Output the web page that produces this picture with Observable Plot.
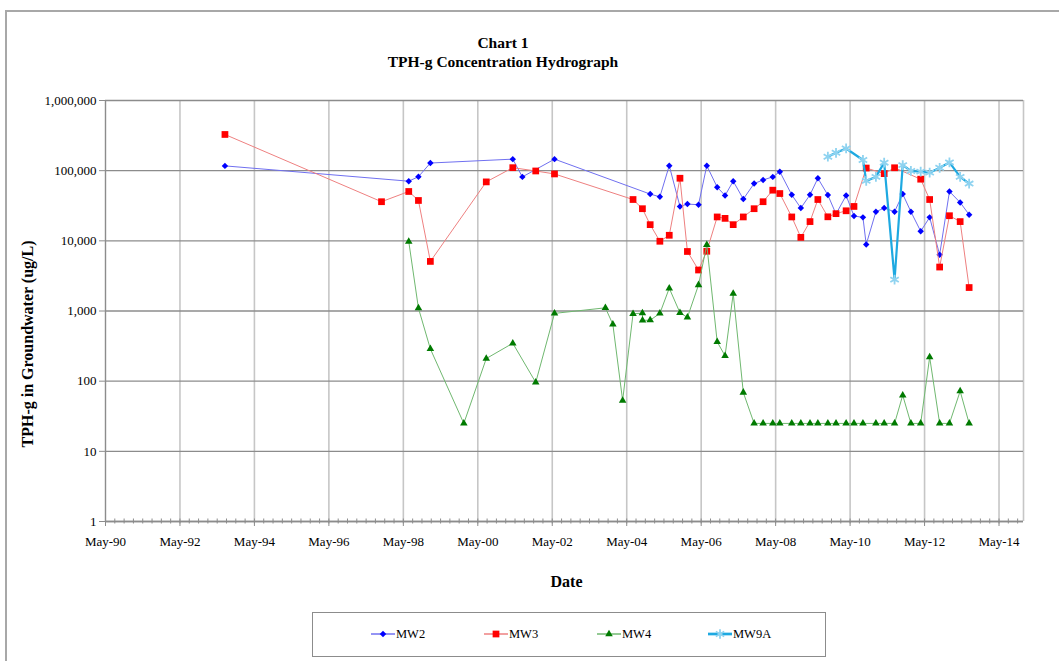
<!DOCTYPE html>
<html>
<head>
<meta charset="utf-8">
<script src="https://cdn.jsdelivr.net/npm/d3@7"></script>
<script src="https://cdn.jsdelivr.net/npm/@observablehq/plot@0.6"></script>
<style>
  html, body { margin: 0; padding: 0; background: #fff; }
  #wrap { position: relative; width: 1059px; height: 661px; overflow: hidden; font-family: "Liberation Serif", "Times New Roman", serif; }
  #border { position: absolute; left: 5px; top: 10px; width: 1100px; height: 700px; border-left: 2px solid #a8a8a8; border-top: 2px solid #a8a8a8; }
  #title { position: absolute; left: 0; top: 33px; width: 1006px; text-align: center; font-weight: bold; font-size: 15.5px; line-height: 19px; color: #000; }
  #chart { position: absolute; left: 0; top: 85px; }
  #legend { position: absolute; left: 312px; top: 612px; width: 512px; height: 43px; border: 1.5px solid #8c8c8c; background: #fff; }
  .item { position: absolute; top: 12px; height: 18px; display: flex; align-items: center; font-size: 12.5px; color: #000; }
  .item svg { display: block; }
</style>
</head>
<body>
<div id="wrap">
  <div id="border"></div>
  <div id="title">Chart 1<br>TPH-g Concentration Hydrograph</div>
  <div id="chart"></div>
  <div id="legend"></div>
</div>
<script>
// ---- Data ----
const seriesNames = ["MW2", "MW3", "MW4", "MW9A"];

const MW2 = [
  ["1993-07-22",117000],["1998-06-28",70800],["1998-10-01",82000],["1999-01-26",128500],
  ["2001-04-13",146000],["2001-07-16",81500],["2002-05-27",146000],["2004-12-20",46400],
  ["2005-03-25",42400],["2005-06-25",117800],["2005-10-08",30900],["2005-12-20",33400],
  ["2006-04-08",32700],["2006-06-28",117800],["2006-10-08",58200],["2006-12-24",44300],
  ["2007-03-14",70800],["2007-06-21",39400],["2007-10-05",65500],["2008-01-01",73800],
  ["2008-04-05",81500],["2008-06-13",96800],["2008-10-08",45300],["2009-01-05",29300],
  ["2009-04-05",45300],["2009-06-21",78000],["2009-09-27",44900],["2009-12-16",24100],
  ["2010-03-25",44300],["2010-06-10",22600],["2010-09-06",21600],["2010-10-08",8870],
  ["2011-01-11",26000],["2011-04-02",29300],["2011-07-13",26000],["2011-10-01",46400],
  ["2011-12-20",26000],["2012-03-25",13700],["2012-06-21",21600],["2012-09-27",6340],
  ["2013-01-01",50500],["2013-04-16",35200],["2013-07-13",23600]
];

const MW3 = [
  ["1993-07-22",328000],["1997-10-04",36100],["1998-06-28",50500],["1998-10-01",37600],
  ["1999-01-26",5090],["2000-07-27",69200],["2001-04-13",110300],["2001-11-24",99000],
  ["2002-05-27",89800],["2004-07-05",38800],["2004-10-05",28700],["2004-12-20",17000],
  ["2005-03-25",9860],["2005-06-25",12000],["2005-10-08",78000],["2005-12-20",7050],
  ["2006-04-08",3840],["2006-06-28",7100],["2006-10-08",21900],["2006-12-24",20900],
  ["2007-03-14",17000],["2007-06-21",21900],["2007-10-05",28700],["2008-01-01",36100],
  ["2008-04-05",52700],["2008-06-13",47200],["2008-10-08",21900],["2009-01-05",11200],
  ["2009-04-05",18800],["2009-06-21",38800],["2009-09-27",22000],["2009-12-16",24400],
  ["2010-03-25",26800],["2010-06-10",30900],["2010-10-08",109000],["2011-04-02",90700],
  ["2011-07-13",110000],["2012-03-25",75600],["2012-06-21",38800],["2012-09-27",4230],
  ["2013-01-01",22800],["2013-04-16",18800],["2013-07-13",2160]
];

const MW4 = [
  ["1998-06-28",9780],["1998-10-01",1100],["1999-01-26",288],["1999-12-20",25],
  ["2000-07-27",210],["2001-04-13",347],["2001-11-24",96],["2002-05-27",925],
  ["2003-10-08",1110],["2003-12-20",646],["2004-03-25",53],["2004-07-05",912],
  ["2004-10-05",933],["2004-10-06",736],["2004-12-20",740],["2005-03-25",925],
  ["2005-06-25",2110],["2005-10-08",944],["2005-12-20",811],["2006-04-08",2350],
  ["2006-06-28",8770],["2006-10-08",363],["2006-12-24",230],["2007-03-14",1770],
  ["2007-06-21",69],["2007-10-05",25],["2008-01-01",25],["2008-04-05",25],
  ["2008-06-13",25],["2008-10-08",25],["2009-01-05",25],["2009-04-05",25],
  ["2009-06-21",25],["2009-09-27",25],["2009-12-16",25],["2010-03-25",25],
  ["2010-06-10",25],["2010-09-06",25],["2011-01-11",25],["2011-04-02",25],
  ["2011-07-13",25],["2011-10-01",63],["2011-12-20",25],["2012-03-25",25],
  ["2012-06-21",220],["2012-09-27",25],["2013-01-01",25],["2013-04-16",72],
  ["2013-07-13",25]
];

const MW9A = [
  ["2009-09-27",158000],["2009-12-16",180000],["2010-03-25",207000],["2010-09-06",142000],
  ["2010-10-08",71500],["2011-01-11",81500],["2011-04-02",130000],["2011-07-13",2800],
  ["2011-10-01",120000],["2011-12-20",99000],["2012-03-25",96800],["2012-06-21",93700],
  ["2012-09-27",110000],["2013-01-01",131000],["2013-04-16",81500],["2013-07-13",65500]
];

// Axis ticks
const xTickDates = ["1990-05-08","1992-05-07","1994-05-07","1996-05-06","1998-05-06","2000-05-05",
  "2002-05-05","2004-05-04","2006-05-04","2008-05-03","2010-05-03","2012-05-02","2014-05-02"];
const xDomainDates = ["1990-05-08","2014-12-28"];
const yTicks = [1, 10, 100, 1000, 10000, 100000, 1000000];
const yDomain = [1, 1000000];

// ---- Build ----
const parse = s => new Date(s + "T00:00:00Z");
const toRows = arr => arr.map(([d, v]) => ({date: parse(d), value: v}));
const d2 = toRows(MW2), d3s = toRows(MW3), d4 = toRows(MW4), d9 = toRows(MW9A);

const xDomain = xDomainDates.map(parse);
const xTicks = xTickDates.map(parse);
const xGrid = [...xTicks.slice(1), xDomain[1]];
const minorStep = 730 / 8;
const minorTicks = d3.range(0, (xDomain[1] - xDomain[0]) / 864e5 + 1, minorStep)
  .map(k => new Date(+xDomain[0] + k * 864e5));

const styles = {
  MW2:  {line: "#7070f0", lw: 1,   fill: "#0000ff", stroke: "none", symbol: "diamond2", r: 2.9},
  MW3:  {line: "#ee8080", lw: 1,   fill: "#ff0000", stroke: "none", symbol: "square",  r: 3.8},
  MW4:  {line: "#70b870", lw: 1,   fill: "#007a00", stroke: "none", symbol: "triangle", r: 2.8},
  MW9A: {line: "#1ea9e1", lw: 2.2, fill: "none", stroke: "#8fd3f0", symbol: "asterisk", r: 4.6}
};

function seriesMarks(data, s) {
  return [
    Plot.line(data, {x: "date", y: "value", stroke: s.line, strokeWidth: s.lw}),
    Plot.dot(data, {x: "date", y: "value", symbol: s.symbol, r: s.r,
      fill: s.fill, stroke: s.stroke, strokeWidth: s.stroke === "none" ? 0 : 1.8})
  ];
}

const font = "'Liberation Serif', 'Times New Roman', serif";

const chart = Plot.plot({
  width: 1059,
  height: 515,
  marginTop: 15,
  marginBottom: 79,
  marginLeft: 105,
  marginRight: 36,
  style: {fontFamily: font, fontSize: "13px", color: "#000", background: "transparent", overflow: "visible"},
  x: {type: "utc", domain: xDomain},
  y: {type: "log", domain: yDomain},
  marks: [
    Plot.gridX(xGrid, {stroke: "#c6c6c6", strokeOpacity: 1, strokeWidth: 1.6}),
    Plot.gridY(yTicks, {stroke: "#8c8c8c", strokeOpacity: 1, strokeWidth: 1.4}),
    Plot.ruleX([xDomain[0]], {stroke: "#8c8c8c", strokeWidth: 1.4}),
    Plot.ruleY([yDomain[0]], {stroke: "#8c8c8c", strokeWidth: 1.4}),
    Plot.axisY(yTicks, {tickFormat: d3.format(","), tickSize: 6, tickPadding: 3,
      stroke: "#8c8c8c", fill: "#000", label: null, fontSize: 13}),
    Plot.axisX(xTicks, {tickFormat: d3.utcFormat("%b-%y"), tickSize: 5, tickPadding: 10,
      stroke: "#8c8c8c", fill: "#000", label: null, fontSize: 13}),
    Plot.axisX(minorTicks, {tickFormat: () => "", tickSize: 5, dy: -2.5,
      stroke: "#8c8c8c", label: null}),
    ...seriesMarks(d2, styles.MW2),
    ...seriesMarks(d3s, styles.MW3),
    ...seriesMarks(d4, styles.MW4),
    ...seriesMarks(d9, styles.MW9A),
    Plot.text(["TPH-g in Groundwater (ug/L)"], {frameAnchor: "left", textAnchor: "middle", lineAnchor: "middle",
      rotate: -90, dx: -78, dy: 33, fontWeight: "bold", fontSize: 16, fill: "#000"}),
    Plot.text(["Date"], {frameAnchor: "bottom", textAnchor: "middle", lineAnchor: "middle",
      dy: 60, dx: 2, fontWeight: "bold", fontSize: 16, fill: "#000"})
  ]
});
document.getElementById("chart").appendChild(chart);

// ---- Legend ----
const legend = document.getElementById("legend");
const legendLeft = {MW2: 58, MW3: 171, MW4: 284, MW9A: 395};
const symMap = {diamond2: d3.symbolDiamond2, square: d3.symbolSquare, triangle: d3.symbolTriangle, asterisk: d3.symbolAsterisk};
for (const name of seriesNames) {
  const s = styles[name];
  const item = document.createElement("div");
  item.className = "item";
  item.style.left = legendLeft[name] + "px";
  const svg = d3.create("svg").attr("width", 24).attr("height", 14);
  svg.append("line").attr("x1", 0).attr("x2", 24).attr("y1", 7).attr("y2", 7)
    .attr("stroke", s.line).attr("stroke-width", s.lw + 0.5);
  svg.append("path").attr("transform", "translate(12,7)")
    .attr("d", d3.symbol(symMap[s.symbol], Math.PI * s.r * s.r)())
    .attr("fill", s.fill).attr("stroke", s.stroke).attr("stroke-width", s.stroke === "none" ? 0 : 1.8);
  item.appendChild(svg.node());
  const label = document.createElement("span");
  label.textContent = name;
  label.style.marginLeft = "1px";
  item.appendChild(label);
  legend.appendChild(item);
}
</script>
</body>
</html>
